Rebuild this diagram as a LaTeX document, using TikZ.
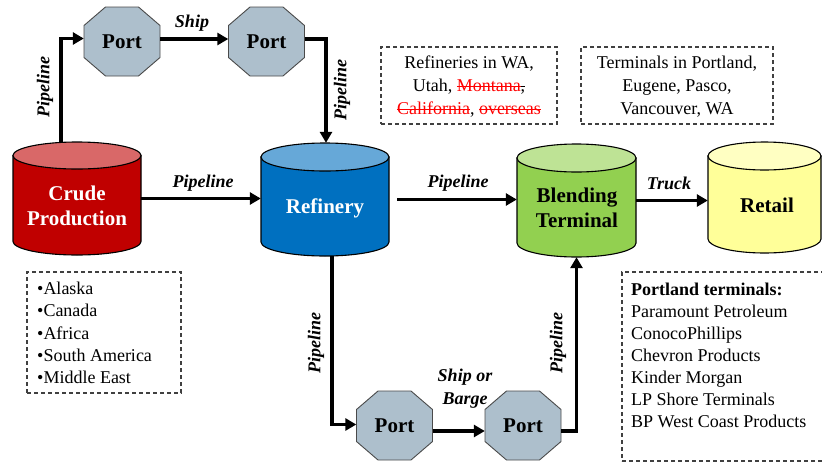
\documentclass[tikz,border=0pt]{standalone}
\usepackage{fontspec}
\setmainfont{Liberation Serif}
\usetikzlibrary{shapes.geometric,arrows.meta,calc}
\definecolor{crudeB}{HTML}{C00000}
\definecolor{crudeT}{HTML}{D96868}
\definecolor{refB}{HTML}{0070C0}
\definecolor{refT}{HTML}{66A8D8}
\definecolor{blendB}{HTML}{92D050}
\definecolor{blendT}{HTML}{BEE395}
\definecolor{retB}{HTML}{FFFF99}
\definecolor{retT}{HTML}{FFFFC2}
\definecolor{portF}{HTML}{ADBFCC}
\definecolor{portL}{HTML}{4A4A4A}
\definecolor{boxL}{HTML}{404040}
\newsavebox\strkbox
\newcommand\strk[1]{\sbox\strkbox{#1}\rlap{\rule[0.27em]{\wd\strkbox}{0.06em}}\usebox\strkbox}
\newcommand\drawcyl[7]{%
  \filldraw[fill=#6, cylline] (#1-#4, #2+#5) -- (#1-#4, #3-#5)
    arc[start angle=180, end angle=360, x radius=#4pt, y radius=#5pt]
    -- (#1+#4, #2+#5) -- cycle;
  \filldraw[fill=#7, cylline] (#1, #2+#5) ellipse[x radius=#4pt, y radius=#5pt];
}
% octagon 76 x 69 centred at (#1,#2)
\newcommand\drawoct[2]{%
  \filldraw[portline] (#1-16.5,#2-34.5) -- (#1+16.5,#2-34.5) -- (#1+38,#2-16) -- (#1+38,#2+16)
    -- (#1+16.5,#2+34.5) -- (#1-16.5,#2+34.5) -- (#1-38,#2+16) -- (#1-38,#2-16) -- cycle;
}
\tikzset{
  cylline/.style={draw=black, line width=1.1pt},
  cylnode/.style={rectangle, inner sep=0pt},
  cyltxt/.style={font=\fontsize{21}{25}\selectfont\bfseries, align=center, inner sep=0pt},
  portline/.style={fill=portF, draw=portL, line width=0.9pt, line join=miter},
  port/.style={rectangle, minimum width=76pt, minimum height=69pt,
    font=\fontsize{21}{24}\selectfont\bfseries, inner sep=0pt},
  lbl/.style={font=\fontsize{18}{23}\selectfont\bfseries\itshape, inner sep=0pt, align=center},
  arr/.style={line width=3.2pt, -{Triangle[length=11pt,width=12pt]}},
  dbox/.style={draw=boxL, dash pattern=on 4pt off 3pt, line width=1.1pt, inner sep=0pt},
  txt/.style={font=\fontsize{18}{23}\selectfont, inner sep=0pt},
}
\begin{document}
\begin{tikzpicture}[x=1pt, y=-1pt]
\useasboundingbox (0,0) rectangle (822,464);
\clip (0,0) rectangle (822,464);
% cylinders
\drawcyl{77}{142}{255}{64}{13.5}{crudeB}{crudeT}
\drawcyl{325}{143}{256}{64}{14}{refB}{refT}
\drawcyl{576.5}{144}{257}{59.5}{14}{blendB}{blendT}
\drawcyl{764.5}{142}{253}{56.5}{14}{retB}{retT}
\node[cylnode, minimum width=128pt, minimum height=113pt] (crude) at (77,198.5) {};
\node[cylnode, minimum width=128pt, minimum height=113pt] (ref) at (325,199.5) {};
\node[cylnode, minimum width=119pt, minimum height=113pt] (blend) at (576.5,200.5) {};
\node[cylnode, minimum width=113pt, minimum height=111pt] (retail) at (764.5,197.5) {};
\node[cyltxt, text=white] (crudelbl) at (77,206) {Crude\\Production};
\node[cyltxt, text=white] (reflbl) at (325,208) {Refinery};
\node[cyltxt] (blendlbl) at (577,208) {Blending\\Terminal};
\node[cyltxt] (retaillbl) at (767,205) {Retail};
% ports
\drawoct{122}{41.5}
\drawoct{266.5}{41.5}
\drawoct{394.5}{425.5}
\drawoct{523}{425.5}
\node[port] (p1) at (122,41.5) {Port};
\node[port] (p2) at (266.5,41.5) {Port};
\node[port] (p3) at (394.5,425.5) {Port};
\node[port] (p4) at (523,425.5) {Port};
% connectors
\draw[arr] ([xshift=-16pt]crude.north) |- ([yshift=3pt]p1.west);
\draw[arr] ([yshift=2.5pt]p1.east) -- ([yshift=2.5pt]p2.west);
\draw[arr] ([yshift=2.5pt]p2.east) -| ([xshift=1pt]ref.north);
\draw[arr] (crude.east) -- (crude.east -| ref.west);
\draw[arr] ([xshift=8pt]ref.east) -- (ref.east -| blend.west);
\draw[arr] (blend.east) -- (blend.east -| retail.west);
\draw[arr] ([xshift=7pt]ref.south) |- ([yshift=1pt]p3.west);
\draw[arr] ([yshift=-5.5pt]p3.east) -- ([yshift=-5.5pt]p4.west);
\draw[arr] ([yshift=-5.5pt]p4.east) -| (blend.south);
% connector labels
\node[lbl, rotate=90] (l1) at (45,87) {Pipeline};
\node[lbl] (l2) at (192,23) {Ship};
\node[lbl, rotate=90] (l3) at (342,90) {Pipeline};
\node[lbl] (l4) at (203,183) {Pipeline};
\node[lbl] (l5) at (458,183) {Pipeline};
\node[lbl] (l6) at (669,183) {Truck};
\node[lbl, rotate=90] (l7) at (316,343) {Pipeline};
\node[lbl, rotate=90] (l8) at (558,343) {Pipeline};
\node[lbl] (l9) at (465,389) {Ship or\\Barge};
% dashed boxes
\node[dbox, minimum width=176pt, minimum height=77pt] (b1) at (469,85.5) {};
\node[txt, align=center] (b1t) at (469,87) {Refineries in WA,\\Utah, \textcolor{red}{\strk{Montana}}\strk{,}\\\textcolor{red}{\strk{California}}, \textcolor{red}{\strk{overseas}}};
\node[dbox, minimum width=192pt, minimum height=77pt] (b2) at (677,85.5) {};
\node[txt, align=center] (b2t) at (677,87) {Terminals in Portland,\\Eugene, Pasco,\\Vancouver, WA};
\node[dbox, minimum width=154pt, minimum height=121pt] (b3) at (104,332.5) {};
\node[txt, align=left, anchor=west, font=\fontsize{18}{22.3}\selectfont] (b3t) at (37,333) {•Alaska\\•Canada\\•Africa\\•South America\\•Middle East};
\node[dbox, minimum width=210pt, minimum height=189pt] (b4) at (727,366.5) {};
\node[txt, align=left, anchor=west, font=\fontsize{18}{22}\selectfont] (b4t) at (631,355) {\textbf{Portland terminals:}\\Paramount Petroleum\\ConocoPhillips\\Chevron Products\\Kinder Morgan\\LP Shore Terminals\\BP West Coast Products};
\end{tikzpicture}
\end{document}
